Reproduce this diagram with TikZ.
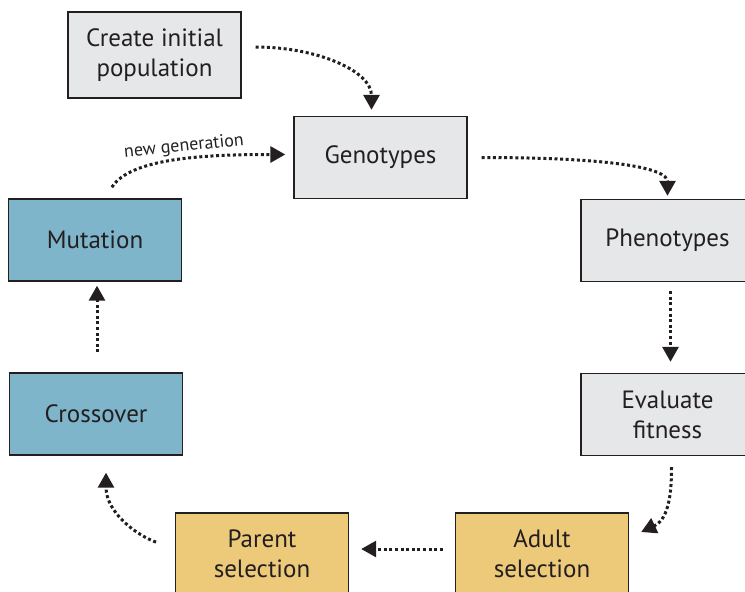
\documentclass[tikz,border=0pt]{standalone}
\usepackage{fontspec}
\setmainfont{PT Sans}
\usetikzlibrary{arrows.meta}
\definecolor{inkdark}{HTML}{231F20}
\definecolor{boxgray}{HTML}{E6E7E8}
\definecolor{boxblue}{HTML}{7FB5CB}
\definecolor{boxgold}{HTML}{EDC97A}
\tikzset{
  stage/.style={draw=inkdark, line width=1.4pt, minimum width=173pt, minimum height=82pt,
    align=center, text=inkdark, font=\fontsize{25}{30}\selectfont, inner sep=0pt},
  graystage/.style={stage, fill=boxgray},
  bluestage/.style={stage, fill=boxblue},
  goldstage/.style={stage, fill=boxgold},
  flow/.style={draw=inkdark, line width=3pt, dash pattern=on 3pt off 2.6pt,
    -{Triangle[width=16pt,length=15pt]}},
  genlabel/.style={text=inkdark, font=\fontsize{18}{20}\selectfont, inner sep=0pt}
}
\begin{document}
\begin{tikzpicture}[x=1pt,y=-1pt]
\useasboundingbox (0,0) rectangle (745,592);
\clip (0,0) rectangle (745,592);

% stages of the cycle
\node[graystage, minimum height=86pt] (create) at (154.5,55) {Create initial\\population};
\node[graystage] (geno)   at (380.5,157.5) {Genotypes};
\node[graystage] (pheno)  at (667.5,240.5) {Phenotypes};
\node[graystage] (eval)   at (667.5,414.5) {Evaluate\\fitness};
\node[goldstage] (adult)  at (542,554)     {Adult\\selection};
\node[goldstage] (parent) at (262,554)     {Parent\\selection};
\node[bluestage] (cross)  at (96,414)      {Crossover};
\node[bluestage] (mut)    at (95,240)      {Mutation};

% connectors
\draw[flow, shorten <=14pt, shorten >=6pt]
  ([yshift=8pt]create.east) .. controls +(75,0) and +(0,-45) .. ([xshift=-9pt]geno.north);
\draw[flow, shorten <=14pt, shorten >=3pt]
  (geno.east) .. controls +(150,0) and +(0,-30) .. (pheno.north);
\draw[flow, shorten <=9pt, shorten >=11pt]
  ([xshift=3pt]pheno.south) -- ([xshift=3pt]eval.north);
\draw[flow, shorten <=11pt]
  ([xshift=4pt]eval.south) to[out=-90,in=25] ([xshift=12pt,yshift=22pt]adult.east);
\draw[flow, shorten <=12pt, shorten >=12pt]
  ([yshift=5pt]adult.west) -- ([yshift=5pt]parent.west -| parent.east);
\draw[flow, shorten <=20pt]
  ([yshift=5pt]parent.west) to[out=160,in=-90] ([xshift=10pt,yshift=-17pt]cross.south);
\draw[flow, shorten <=20pt, shorten >=4pt]
  ([xshift=1pt]cross.north) -- ([xshift=2pt]mut.south);
\draw[flow, shorten <=13pt, shorten >=8pt]
  ([xshift=10pt]mut.north) .. controls +(25,-40) and +(-90,0) .. ([yshift=3pt]geno.west);
\node[genlabel, rotate=6] (gentext) at (184,147) {new generation};
\end{tikzpicture}
\end{document}
